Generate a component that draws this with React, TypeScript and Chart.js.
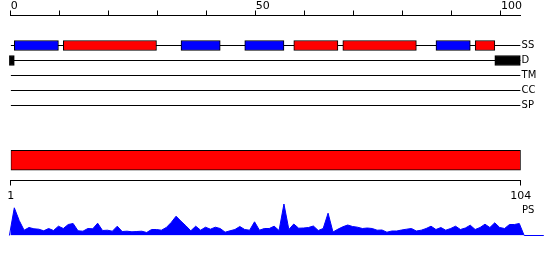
import React, { useEffect, useRef } from "react";
import { Chart, registerables } from "chart.js";

Chart.register(...registerables);

// ---- data ----
const SEQ_LENGTH = 104;
const TOP_TICKS = [0, 10, 20, 30, 40, 50, 60, 70, 80, 90, 100];
const TOP_LABELED = [0, 50, 100];
const ROW_LABELS = ["SS", "D", "TM", "CC", "SP"];
// residue ranges [start, end]
const STRAND_SEGMENTS = [
  [1, 10],
  [35, 43],
  [48, 56],
  [87, 94],
];
const HELIX_SEGMENTS = [
  [11, 30],
  [58, 67],
  [68, 83],
  [95, 99],
];
const DISORDER_SEGMENTS = [
  [0, 1],
  [99, 104.2],
];
const PS_RANGE = [1, 104];
const PS_AXIS_TICKS = [1, 104];
const PS_SCORES = [
  27.7, 15, 5.3, 8, 6.7, 6.3, 4.7, 7, 5, 9.3,
  7, 11, 12, 4.7, 4.3, 7, 6.7, 12.3, 5, 5.3,
  4.3, 9.3, 4, 4.3, 3.7, 4, 4.3, 3, 6, 6,
  5.3, 8, 13, 19.3, 14.3, 9.7, 4.7, 9.3, 5.3, 8.3,
  6.3, 8.3, 7, 3.3, 4.7, 6, 9, 6, 5.3, 13.7,
  5.3, 7, 7, 9.3, 5, 31.5, 6, 11.5, 7.3, 7.5,
  8, 9.5, 5, 7, 22.3, 3.5, 6.3, 8.7, 10.5, 9,
  8.3, 7, 7.5, 7, 5.3, 5.5, 3.3, 4.5, 4.5, 5.5,
  6.3, 7, 4.5, 5.3, 7, 9.3, 6, 8, 5.3, 7,
  9.3, 6, 7.5, 10.3, 6, 8, 11.3, 8, 12.7, 8,
  7, 11, 11, 12,
];
const PS_TAIL_END = 109;

// ---- style ----
const FONT = "DejaVu Sans";
const BLUE = "#0000ff";
const RED = "#ff0000";
const BLACK = "#000000";
const OFF = -0.26; // residue drawing offset on the top ruler

function TopChart() {
  const ref = useRef<HTMLCanvasElement>(null);
  useEffect(() => {
    const seg = (s: number[], row: number) => ({ x: [s[0] + OFF, s[1] + OFF], y: row });
    const barBase = {
      type: "bar" as const,
      borderColor: BLACK,
      borderWidth: 1,
      borderSkipped: false,
      barThickness: 10,
      grouped: false,
      clip: false as any,
    };
    const lines = ROW_LABELS.map((_, r) => ({
      type: "line" as const,
      data: [
        { x: 0, y: r },
        { x: SEQ_LENGTH, y: r },
      ],
      borderColor: BLACK,
      borderWidth: 1,
      pointRadius: 0,
      fill: false,
    }));
    const chart = new Chart(ref.current!, {
      type: "bar",
      data: {
        datasets: [
          { ...barBase, data: STRAND_SEGMENTS.map((s) => seg(s, 0)), backgroundColor: BLUE },
          { ...barBase, data: HELIX_SEGMENTS.map((s) => seg(s, 0)), backgroundColor: RED },
          { ...barBase, data: DISORDER_SEGMENTS.map((s) => seg(s, 1)), backgroundColor: BLACK },
          ...lines,
        ] as any,
      },
      options: {
        indexAxis: "y",
        animation: false,
        responsive: false,
        events: [],
        layout: { padding: { left: 10.67, right: 0, top: 0.5, bottom: 7 } },
        plugins: { legend: { display: false }, tooltip: { enabled: false } },
        scales: {
          x: {
            type: "linear",
            position: "top",
            min: 0,
            max: SEQ_LENGTH,
            offset: false,
            afterBuildTicks: (s: any) => {
              s.ticks = TOP_TICKS.map((v) => ({ value: v }));
            },
            afterFit: (s: any) => {
              s.height = 15;
            },
            ticks: {
              callback: (v: any) => (TOP_LABELED.includes(Number(v)) ? String(v) : ""),
              align: "start",
              padding: -2,
              color: BLACK,
              maxRotation: 0,
              autoSkip: false,
              font: { family: FONT, size: 11 },
            },
            grid: { drawOnChartArea: false, tickLength: 5, color: BLACK, offset: false },
            border: { color: BLACK, width: 1 },
          },
          y: {
            type: "linear",
            position: "right",
            reverse: true,
            min: -2,
            max: 4.5,
            offset: false,
            afterBuildTicks: (s: any) => {
              s.ticks = ROW_LABELS.map((_, i) => ({ value: i }));
            },
            afterFit: (s: any) => {
              s.width = 29.4;
            },
            ticks: {
              callback: (_v: any, i: number) => ROW_LABELS[i] ?? "",
              padding: 1,
              color: BLACK,
              autoSkip: false,
              font: { family: FONT, size: 10 },
            },
            grid: { display: false, drawTicks: false, offset: false },
            border: { display: false },
          },
        },
      } as any,
    });
    return () => chart.destroy();
  }, []);
  return <canvas ref={ref} width={550} height={120} style={{ position: "absolute", left: 0, top: 0 }} />;
}

function MiddleChart() {
  const ref = useRef<HTMLCanvasElement>(null);
  useEffect(() => {
    const chart = new Chart(ref.current!, {
      type: "bar",
      data: {
        datasets: [
          {
            data: [{ x: PS_RANGE, y: 0 }],
            backgroundColor: RED,
            borderColor: BLACK,
            borderWidth: 1,
            borderSkipped: false,
            barThickness: 20,
          },
        ] as any,
      },
      options: {
        indexAxis: "y",
        animation: false,
        responsive: false,
        events: [],
        layout: { padding: { left: 10.7, right: 29.3, top: 0, bottom: 0 } },
        plugins: { legend: { display: false }, tooltip: { enabled: false } },
        scales: {
          x: {
            type: "linear",
            position: "bottom",
            min: PS_RANGE[0],
            max: PS_RANGE[1],
            offset: false,
            afterBuildTicks: (s: any) => {
              s.ticks = PS_AXIS_TICKS.map((v) => ({ value: v }));
            },
            afterFit: (s: any) => {
              s.height = 29.5;
            },
            ticks: {
              padding: 4,
              color: BLACK,
              maxRotation: 0,
              autoSkip: false,
              font: { family: FONT, size: 11 },
            },
            grid: { drawOnChartArea: false, tickLength: 5, color: BLACK, offset: false },
            border: { color: BLACK, width: 1 },
          },
          y: { type: "linear", display: false, min: -1, max: 1, offset: false },
        },
      } as any,
    });
    return () => chart.destroy();
  }, []);
  return <canvas ref={ref} width={550} height={70} style={{ position: "absolute", left: 0, top: 140 }} />;
}

function ProfileChart() {
  const ref = useRef<HTMLCanvasElement>(null);
  useEffect(() => {
    const pts = [
      { x: 0 + OFF, y: 0 },
      ...PS_SCORES.map((v, i) => ({ x: i + 1 + OFF, y: v })),
      { x: PS_SCORES.length + 1 + OFF, y: 0 },
      { x: PS_TAIL_END + OFF, y: 0 },
    ];
    const chart = new Chart(ref.current!, {
      type: "line",
      data: {
        datasets: [
          {
            data: pts,
            borderColor: BLUE,
            backgroundColor: BLUE,
            borderWidth: 1,
            pointRadius: 0,
            fill: "origin",
            tension: 0,
            clip: false,
          },
        ] as any,
      },
      options: {
        animation: false,
        responsive: false,
        events: [],
        layout: { padding: { left: 10.67, right: 6.2, top: 0, bottom: 4.5 } },
        plugins: { legend: { display: false }, tooltip: { enabled: false } },
        scales: {
          x: { type: "linear", display: false, min: 0, max: PS_TAIL_END + OFF },
          y: { type: "linear", display: false, min: 0, max: 35.5 },
        },
      } as any,
    });
    return () => chart.destroy();
  }, []);
  return <canvas ref={ref} width={550} height={40} style={{ position: "absolute", left: 0, top: 200 }} />;
}

export default function App() {
  return (
    <div style={{ position: "absolute", left: 0, top: 0, width: 550, height: 260, background: "#fff", overflow: "hidden" }}>
      <TopChart />
      <MiddleChart />
      <ProfileChart />
      <span
        style={{
          position: "absolute",
          left: 522,
          top: 205,
          fontFamily: FONT,
          fontSize: 10,
          lineHeight: "10px",
          color: BLACK,
        }}
      >
        PS
      </span>
    </div>
  );
}
